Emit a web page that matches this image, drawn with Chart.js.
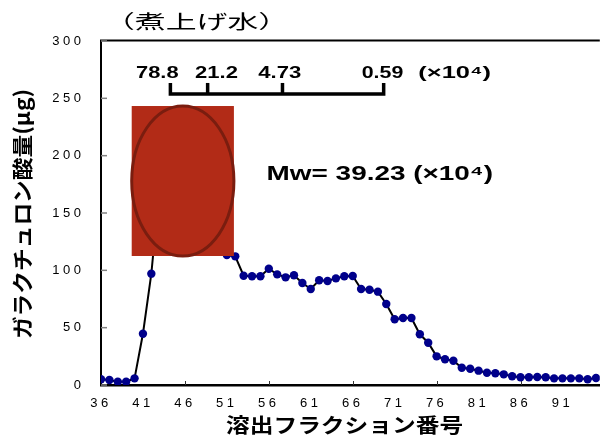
<!DOCTYPE html>
<html><head><meta charset="utf-8">
<script src="https://cdn.jsdelivr.net/npm/chart.js@4.4.1/dist/chart.umd.min.js"></script>
<style>html,body{margin:0;padding:0;background:#fff;}canvas{display:block;}</style>
</head><body>
<canvas id="c" width="604" height="442" style="width:604px;height:442px"></canvas>
<script>
// ---- data ----
const fractions = [36,37,38,39,40,41,42,43,44,45,46,47,48,49,50,51,52,53,54,55,56,57,58,59,60,
  61,62,63,64,65,66,67,68,69,70,71,72,73,74,75,76,77,78,79,80,81,82,83,84,85,86,87,88,89,90,
  91,92,93,94,95];
const galacturonicAcid = [5.0,4.4,2.9,2.9,5.8,44.7,97.1,174,205,215,208,190,165,143,125,113.4,112.2,95.3,94.8,94.8,101.4,96.5,93.9,95.7,89.0,
  83.7,91.3,90.7,93.0,94.8,95.1,83.7,83.1,81.4,70.6,57.3,58.4,58.4,44.2,36.9,25.0,22.4,21.2,15.1,14.2,12.5,10.7,10.2,9.3,7.6,6.7,6.7,7.0,6.7,5.8,
  5.8,5.8,5.8,5.0,6.1];
const xTickLabels = [36,41,46,51,56,61,66,71,76,81,86,91];
const xTickMarks = [46,56,66,76,86];
const yTickLabels = [0,50,100,150,200,250,300];
const chartTitle = '（煮上げ水）';
const yAxisTitle = 'ガラクチュロン酸量(μg)';
const xAxisTitle = '溶出フラクション番号';
const mwScaleLabels = ['78.8','21.2','4.73','0.59'];
const mwUnitLabel = '(×10⁴)';
const mwText = 'Mw= 39.23 (×10⁴)';

// draw text so its ink spans [x0,x1] horizontally
function fitText(ctx, text, font, x0, x1, y, baseline, color) {
  ctx.save();
  ctx.letterSpacing = '0px';
  ctx.font = font;
  ctx.textAlign = 'left';
  ctx.textBaseline = baseline;
  const m = ctx.measureText(text);
  const ink = m.actualBoundingBoxLeft + m.actualBoundingBoxRight;
  const sx = (x1 - x0) / ink;
  ctx.translate(x0 + m.actualBoundingBoxLeft * sx, y);
  ctx.scale(sx, 1);
  ctx.fillStyle = color || '#000';
  ctx.fillText(text, 0, 0);
  ctx.restore();
}

const overlay = {
  id: 'overlay',
  beforeDraw(chart) { chart.ctx.letterSpacing = '3.5px'; },
  beforeDatasetsDraw(chart) {
    const ctx = chart.ctx; ctx.letterSpacing = '0px';
    const xs = chart.scales.x, ys = chart.scales.y, a = chart.chartArea;
    ctx.save();
    ctx.strokeStyle = '#000'; ctx.lineWidth = 2;
    ctx.beginPath(); ctx.moveTo(a.left - 1, a.top - 0.5); ctx.lineTo(a.right, a.top - 0.5); ctx.stroke();
    ctx.strokeStyle = '#808080'; ctx.lineWidth = 1.5;
    yTickLabels.forEach(v => { const py = ys.getPixelForValue(v); ctx.beginPath(); ctx.moveTo(a.left, py); ctx.lineTo(a.left + 6, py); ctx.stroke(); });
    ctx.strokeStyle = '#333'; ctx.lineWidth = 1;
    xTickMarks.forEach(v => { const px = Math.round(xs.getPixelForValue(v)) + 0.5; ctx.beginPath(); ctx.moveTo(px, a.bottom); ctx.lineTo(px, a.bottom - 4); ctx.stroke(); });
    ctx.restore();
  },
  afterDraw(chart) {
    const ctx = chart.ctx; ctx.letterSpacing = '0px';
    const xs = chart.scales.x, ys = chart.scales.y;
    const X = v => xs.getPixelForValue(v), Y = v => ys.getPixelForValue(v);
    ctx.save();
    // red box with ellipse
    const bx0 = X(39.66), bx1 = X(51.84), by0 = Y(243.3), by1 = Y(112.5);
    ctx.fillStyle = '#B22B17';
    ctx.fillRect(bx0, by0, bx1 - bx0, by1 - by0);
    ctx.strokeStyle = '#7A1D0F'; ctx.lineWidth = 3;
    ctx.beginPath();
    ctx.ellipse((bx0 + bx1) / 2, (by0 + by1) / 2, (bx1 - bx0) / 2, (by1 - by0) / 2, 0, 0, Math.PI * 2);
    ctx.stroke();
    // bracket
    const bf = [44.27, 48.71, 57.63, 69.69];
    const hy = Y(253.8), ty = Y(263.4);
    ctx.strokeStyle = '#000'; ctx.lineWidth = 3.5; ctx.lineJoin = 'miter'; ctx.lineCap = 'butt';
    ctx.beginPath();
    ctx.moveTo(X(bf[0]), ty); ctx.lineTo(X(bf[0]), hy); ctx.lineTo(X(bf[3]), hy); ctx.lineTo(X(bf[3]), ty);
    ctx.stroke();
    [bf[1], bf[2]].forEach(f => { ctx.beginPath(); ctx.moveTo(X(f), ty); ctx.lineTo(X(f), hy); ctx.stroke(); });
    ctx.restore();
    // labels
    const bold17 = 'bold 17px "Liberation Sans", Arial, sans-serif';
    const spans = [[136,178],[195,237.3],[258.3,300.7],[361.7,402.7]];
    mwScaleLabels.forEach((t, i) => fitText(ctx, t, bold17, spans[i][0], spans[i][1], 78, 'alphabetic'));
    fitText(ctx, mwUnitLabel, bold17, 418.3, 490, 78, 'alphabetic');
    fitText(ctx, mwText, 'bold 20px "Liberation Sans", Arial, sans-serif', 268, 492, 180, 'alphabetic');
    // titles
    fitText(ctx, chartTitle, '19px "Noto Sans CJK JP", sans-serif', 125, 268, 21.5, 'middle');
    fitText(ctx, xAxisTitle, 'bold 20px "Noto Sans CJK JP", sans-serif', 226, 462, 425, 'middle');
    ctx.save();
    ctx.translate(22, 214);
    ctx.rotate(-Math.PI / 2);
    fitText(ctx, yAxisTitle, 'bold 21px "Noto Sans CJK JP", sans-serif', -124, 124, 0, 'middle');
    ctx.restore();
  }
};

new Chart(document.getElementById('c'), {
  type: 'line',
  data: {
    datasets: [{
      data: fractions.map((f, i) => ({ x: f, y: galacturonicAcid[i] })),
      borderColor: '#000', borderWidth: 2,
      pointBackgroundColor: '#00008B', pointBorderColor: '#00008B', pointBorderWidth: 0,
      pointRadius: 4.2, pointHoverRadius: 4.2, tension: 0
    }]
  },
  options: {
    responsive: false, animation: false, devicePixelRatio: 1,
    layout: { padding: { top: 41, right: 0, left: 0, bottom: 0 } },
    plugins: { legend: { display: false }, tooltip: { enabled: false } },
    events: [],
    scales: {
      x: {
        type: 'linear', min: 36, max: 95.45,
        afterBuildTicks: s => { s.ticks = xTickLabels.map(v => ({ value: v })); },
        afterFit: s => { s.height = 57; },
        grid: { drawOnChartArea: false, drawTicks: false },
        border: { color: '#000', width: 2.5 },
        ticks: { color: '#000', font: { family: '"Liberation Sans", Arial', size: 13 }, padding: 11, maxRotation: 0, autoSkip: false }
      },
      y: {
        min: 0, max: 300,
        afterBuildTicks: s => { s.ticks = yTickLabels.map(v => ({ value: v })); },
        afterFit: s => { s.width = 101; },
        grid: { drawOnChartArea: false, drawTicks: false },
        border: { color: '#000', width: 2 },
        ticks: { color: '#000', font: { family: '"Liberation Sans", Arial', size: 13 }, padding: 16.5 }
      }
    }
  },
  plugins: [overlay]
});
</script>
</body></html>
